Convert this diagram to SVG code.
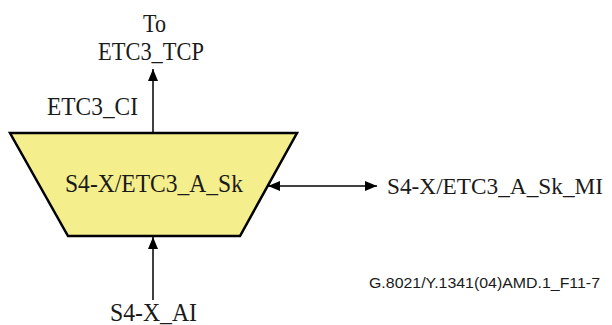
<svg xmlns="http://www.w3.org/2000/svg" width="612" height="325" viewBox="0 0 612 325">
<style>
.t{font-family:"Liberation Serif","Times New Roman",serif;font-size:24.5px;fill:#1a1a1a}
.c{stroke:#000;stroke-width:1.5;fill:none}
.n{font-family:"Liberation Sans",Arial,sans-serif;font-size:15.5px;fill:#1a1a1a}
</style>
<defs>
<marker id="ah" viewBox="0 0 12 10" refX="12" refY="5" markerWidth="12" markerHeight="10" markerUnits="userSpaceOnUse" orient="auto-start-reverse">
<path d="M0,0 L12,5 L0,10 Z" fill="#000"/>
</marker>
</defs>
<rect width="612" height="325" fill="#fff"/>
<g id="block">
<polygon points="10,133 297,133 240,236 68,236" fill="#F4EE8C" stroke="#000" stroke-width="2.5" stroke-linejoin="miter"/>
<text class="t" x="65" y="192" textLength="178" lengthAdjust="spacingAndGlyphs">S4-X/ETC3_A_Sk</text>
</g>
<g id="connectors">
<line class="c" x1="153" y1="133" x2="153" y2="69" marker-end="url(#ah)"/>
<line class="c" x1="153" y1="300" x2="153" y2="237" marker-end="url(#ah)"/>
<line class="c" x1="268" y1="186" x2="377" y2="186" marker-start="url(#ah)" marker-end="url(#ah)"/>
</g>
<g id="labels">
<text class="t" x="143" y="32" textLength="23" lengthAdjust="spacingAndGlyphs">To</text>
<text class="t" x="98" y="60" textLength="106" lengthAdjust="spacingAndGlyphs">ETC3_TCP</text>
<text class="t" x="47" y="115" textLength="91" lengthAdjust="spacingAndGlyphs">ETC3_CI</text>
<text class="t" x="387" y="194" style="font-size:23px" textLength="216" lengthAdjust="spacingAndGlyphs">S4-X/ETC3_A_Sk_MI</text>
<text class="t" x="110" y="321" textLength="87" lengthAdjust="spacingAndGlyphs">S4-X_AI</text>
<text class="n" x="369" y="288" textLength="231" lengthAdjust="spacingAndGlyphs">G.8021/Y.1341(04)AMD.1_F11-7</text>
</g>
</svg>
